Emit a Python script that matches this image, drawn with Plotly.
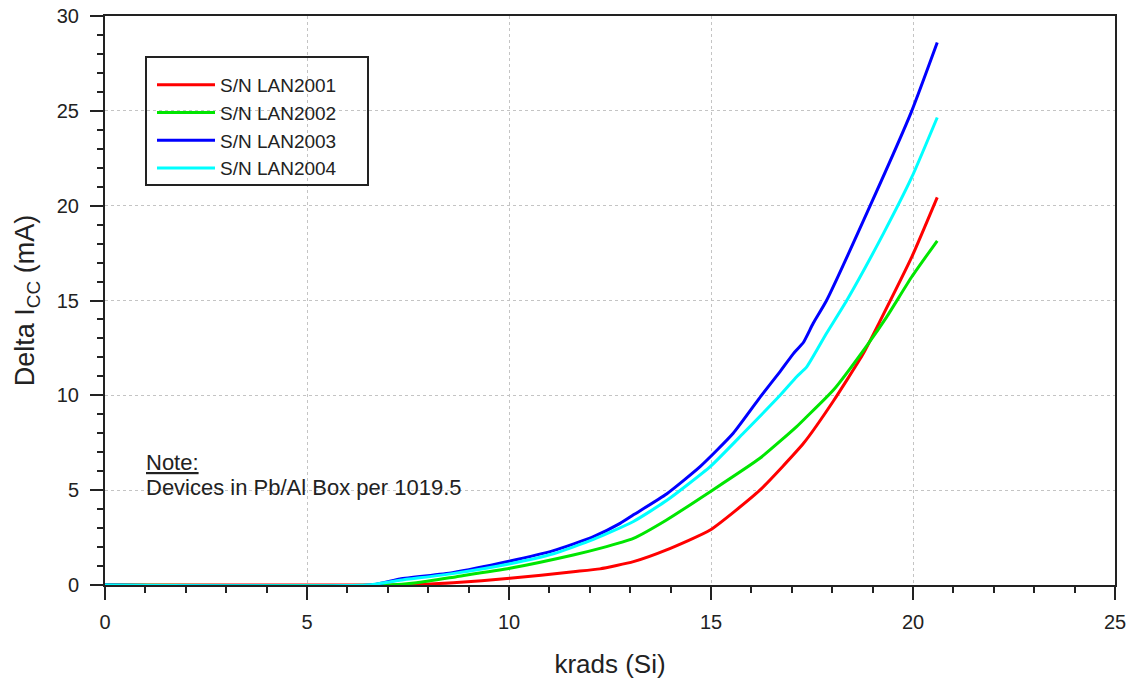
import plotly.graph_objects as go

# Delta Icc versus total dose for four serial numbers
x_lan2001 = [0, 7.3, 8.62, 10.02, 11.59, 12.25, 13.08, 13.9, 14.98, 16.21, 17.29, 18.03, 18.77, 19.18, 19.97, 20.6]
y_lan2001 = [0, 0, 0.12, 0.35, 0.70, 0.85, 1.23, 1.85, 2.9, 5.0, 7.47, 9.7, 12.2, 13.9, 17.3, 20.44]

x_lan2002 = [0, 7.0, 7.71, 8.7, 10.02, 11.59, 12.25, 13.08, 13.9, 14.98, 16.21, 17.12, 17.37, 18.03, 18.85, 19.35, 19.97, 20.6]
y_lan2002 = [0, 0, 0.12, 0.44, 0.88, 1.58, 1.93, 2.46, 3.43, 4.92, 6.68, 8.35, 8.87, 10.28, 12.6, 14.14, 16.25, 18.15]

x_lan2003 = [0, 6.6, 7.3, 8.6, 10.0, 11.1, 12.09, 12.75, 13.08, 13.9, 14.73, 15.55, 16.25, 16.71, 17.04, 17.29, 17.53, 17.86, 18.94, 19.97, 20.6]
y_lan2003 = [0, 0, 0.32, 0.65, 1.25, 1.81, 2.55, 3.25, 3.7, 4.8, 6.24, 8.0, 10.0, 11.25, 12.2, 12.8, 13.8, 15.0, 20.0, 25.0, 28.6]

x_lan2004 = [0, 6.5, 7.3, 8.6, 10.0, 11.1, 12.09, 13.08, 13.9, 14.98, 15.8, 16.71, 17.12, 17.37, 17.86, 18.36, 19.27, 19.97, 20.6]
y_lan2004 = [0, 0, 0.25, 0.6, 1.11, 1.65, 2.4, 3.35, 4.45, 6.24, 8.0, 10.0, 10.98, 11.5, 13.27, 15.0, 18.54, 21.5, 24.65]

series = [
    ("S/N LAN2001", x_lan2001, y_lan2001, "#ff0000"),
    ("S/N LAN2002", x_lan2002, y_lan2002, "#00e600"),
    ("S/N LAN2003", x_lan2003, y_lan2003, "#0000ff"),
    ("S/N LAN2004", x_lan2004, y_lan2004, "#00ffff"),
]

FONT = "Liberation Sans, Arial, sans-serif"
INK = "#222222"

# plot-area pixel geometry
L, R, T, B = 105, 1115, 16, 585
W, H = R - L, B - T


def px(x):
    return (x - L) / W


def py(y):
    return (B - y) / H


fig = go.Figure()
for name, xs, ys, color in series:
    fig.add_trace(go.Scatter(
        x=xs, y=ys, name=name, mode="lines",
        line=dict(color=color, width=3, shape="spline", smoothing=0.5),
    ))

axis_common = dict(
    showline=True, linecolor=INK, linewidth=2, mirror=True,
    showgrid=True, gridcolor="#c4c4c4", griddash="dot", gridwidth=1,
    zeroline=False, automargin=False, ticklabeloverflow="allow",
    ticks="outside", ticklen=13, tickwidth=1.5, tickcolor=INK,
    tickfont=dict(family=FONT, size=20, color=INK),
    minor=dict(dtick=1, ticks="outside", ticklen=6, tickwidth=1.5,
               tickcolor=INK, showgrid=False),
)

fig.update_xaxes(
    range=[0, 25], dtick=5, tick0=0, ticklabelstandoff=5,
    title=dict(text="krads (Si)", font=dict(family=FONT, size=26, color=INK), standoff=24),
    **axis_common,
)
fig.update_yaxes(
    range=[0, 30], dtick=5, tick0=0, ticklabelstandoff=7,
    title=dict(text="Delta I<sub>CC</sub> (mA)", font=dict(family=FONT, size=27, color=INK), standoff=14),
    **axis_common,
)

# legend frame
fig.add_shape(type="rect", xref="paper", yref="paper",
              x0=px(146), x1=px(368), y0=py(185), y1=py(57),
              line=dict(color=INK, width=2), fillcolor="rgba(0,0,0,0)", layer="above")

fig.update_layout(
    width=1126, height=679,
    margin=dict(l=L, r=1126 - R, t=T, b=679 - B, autoexpand=False),
    plot_bgcolor="white", paper_bgcolor="white",
    font=dict(family=FONT, color=INK),
    showlegend=True,
    legend=dict(
        x=px(152), y=py(66), xanchor="left", yanchor="top",
        bgcolor="rgba(0,0,0,0)", borderwidth=0,
        font=dict(family=FONT, size=19, color=INK),
        itemwidth=58,
    ),
    annotations=[
        dict(text="<u>Note:</u>", xref="paper", yref="paper",
             x=px(144), y=py(462), xanchor="left", yanchor="middle",
             showarrow=False, font=dict(family=FONT, size=22, color=INK)),
        dict(text="Devices in Pb/Al Box per 1019.5", xref="paper", yref="paper",
             x=px(144), y=py(487), xanchor="left", yanchor="middle",
             showarrow=False, font=dict(family=FONT, size=22, color=INK)),
    ],
)

fig.write_html("out.html")
